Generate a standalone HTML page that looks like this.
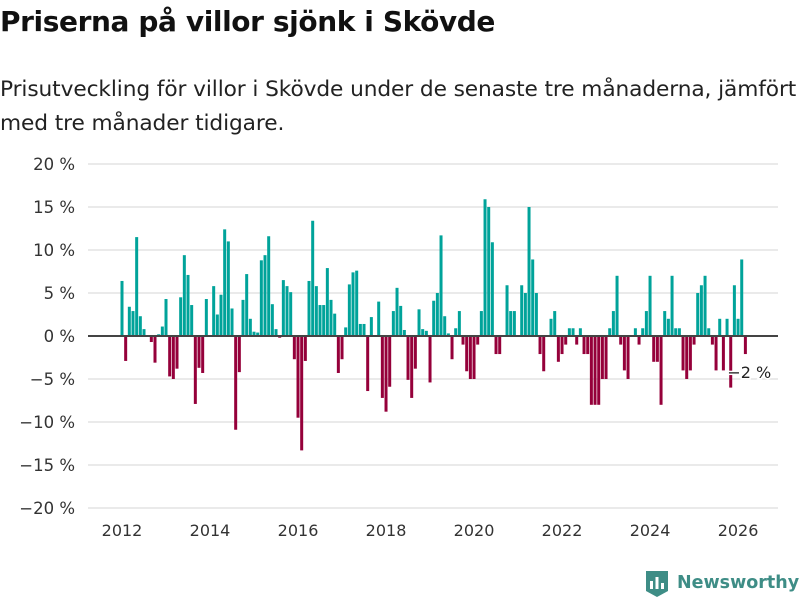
<!DOCTYPE html>
<html><head><meta charset="utf-8">
<style>
body{margin:0;width:800px;height:600px;background:#fff;font-family:"Liberation Sans","DejaVu Sans",sans-serif;overflow:hidden;position:relative}
#title{position:absolute;left:0;top:5px;font-size:28px;font-weight:bold;color:#111;font-family:"DejaVu Sans","Liberation Sans",sans-serif;letter-spacing:-0.4px;white-space:nowrap}
#sub{position:absolute;left:0;top:73px;font-size:21.7px;line-height:34px;color:#222;font-family:"DejaVu Sans","Liberation Sans",sans-serif;width:800px;letter-spacing:-0.1px}
svg{position:absolute;left:0;top:0}
#logo{position:absolute;left:645px;top:569px;display:flex;align-items:center;gap:8px;color:#3e8d86;font-weight:bold;font-size:17.5px;font-family:"DejaVu Sans","Liberation Sans",sans-serif;white-space:nowrap}
</style></head><body>
<div id="title">Priserna på villor sjönk i Skövde</div>
<div id="sub">Prisutveckling för villor i Skövde under de senaste tre månaderna, jämfört med tre månader tidigare.</div>
<svg id="chart" width="800" height="600"></svg>
<div id="logo"><svg width="24" height="28" viewBox="0 0 24 28" style="position:static"><path d="M1 2h22v20l-11 6-11-6z" fill="#3e8d86"/><rect x="5" y="12" width="3" height="8" fill="#fff"/><rect x="10.5" y="8" width="3" height="12" fill="#fff"/><rect x="16" y="14" width="3" height="6" fill="#fff"/></svg><span>Newsworthy</span></div>
<script>
const values = [6.4,-2.9,3.4,2.9,11.5,2.3,0.8,0,-0.7,-3.1,0.2,1.1,4.3,-4.7,-5.0,-3.8,4.5,9.4,7.1,3.6,-7.9,-3.7,-4.3,4.3,0,5.8,2.5,4.8,12.4,11.0,3.2,-10.9,-4.2,4.2,7.2,2.0,0.5,0.4,8.8,9.4,11.6,3.7,0.8,
-0.2,6.5,5.8,5.1,-2.7,-9.5,-13.3,-2.9,6.4,13.4,5.8,3.6,3.6,7.9,4.2,2.6,-4.3,-2.7,1.0,6.0,7.4,7.6,1.4,1.4,-6.4,2.2,0,4.0,-7.2,-8.8,-5.9,2.9,5.6,3.5,0.7,-5.1,-7.2,-3.8,3.1,0.8,0.6,-5.4,
4.1,5.0,11.7,2.3,0.3,-2.7,0.9,2.9,-1.0,-4.1,-5.0,-5.0,-1.0,2.9,15.9,15.0,10.9,-2.1,-2.1,0,5.9,2.9,2.9,0,5.9,5.0,15.0,8.9,5.0,-2.1,-4.1,0,2.0,2.9,-3.0,-2.1,-1.0,0.9,0.9,-1.0,0.9,
-2.1,-2.1,-8,-8,-8,-5,-5,0.9,2.9,7.0,-1.0,-4.0,-5.0,0,0.9,-1.0,0.9,2.9,7.0,-3.0,-3.0,-8.0,2.9,2.0,7.0,0.9,0.9,-4,-5,-4,-1,5.0,5.9,7.0,0.9,-1.0,-4.0,2.0,-4.0,2.0,-6.0,5.9,2.0,8.9,-2.1];
const startYear = 2012;
const yTicks = [20,15,10,5,0,-5,-10,-15,-20];
const xTicks = [2012,2014,2016,2018,2020,2022,2024,2026];
const NS="http://www.w3.org/2000/svg", svg=document.getElementById('chart');
const y = v => 336 - v*8.6;
const x = m => 122 + m*3.667;
const xYear = yr => x((yr-startYear)*12);
function el(t,a){const e=document.createElementNS(NS,t);for(const k in a)e.setAttribute(k,a[k]);svg.appendChild(e);return e;}
yTicks.forEach(t=>{
  const g=el('line',{x1:88,x2:778,y1:y(t),y2:y(t),stroke:'#dedede','stroke-width':1.3});
  
  
  const tx=el('text',{x:75,y:y(t)+6,'text-anchor':'end','font-size':16.5,fill:'#333','font-family':'DejaVu Sans, Liberation Sans, sans-serif'});
  tx.textContent=(t<0?'\u2212'+(-t):t)+' %';
  
  
});
values.forEach((v,i)=>{
  const r=el('rect',{x:x(i)-1.5,width:3,y:v>=0?y(v):y(0),height:Math.abs(y(v)-y(0)),fill:v>=0?'#00a39a':'#95003a'});
  
  
});
const zl=el('line',{x1:88,x2:778,y1:y(0),y2:y(0),stroke:'#444','stroke-width':2});


xTicks.forEach(t=>{
  const tx=el('text',{x:xYear(t),y:536,'text-anchor':'middle','font-size':16,fill:'#333','font-family':'DejaVu Sans, Liberation Sans, sans-serif'});
  tx.textContent=t;
  
  
});
const last=values[values.length-1];
const lb=el('text',{x:x(values.length-1)-18,y:y(last)+24,'font-size':16,fill:'#222',stroke:'#fff','stroke-width':3,'paint-order':'stroke','font-family':'DejaVu Sans, Liberation Sans, sans-serif'});
lb.textContent='\u2212'+Math.round(-last)+' %';


</script>
</body></html>
